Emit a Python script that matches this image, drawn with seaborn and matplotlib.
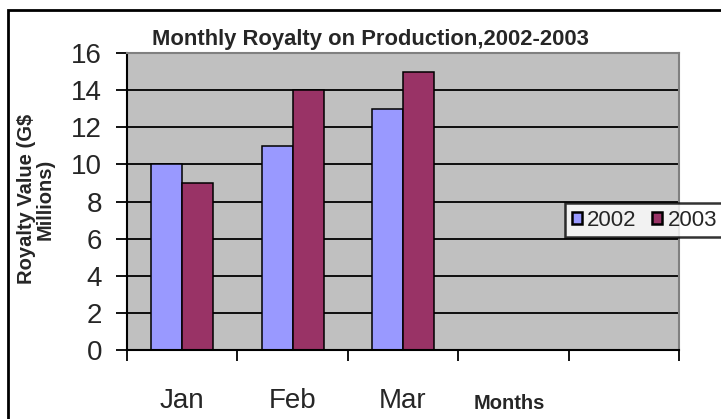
import numpy as np
import pandas as pd
import matplotlib
matplotlib.use('Agg')
import matplotlib.pyplot as plt
import seaborn as sns
from matplotlib.patches import Rectangle

# data
months = ['Jan', 'Feb', 'Mar']
slots = ['Jan', 'Feb', 'Mar', ' ', '  ']   # 2 empty category slots like the original
royalty_2002 = [10, 11, 13]
royalty_2003 = [9, 14, 15]
years = ['2002', '2003']
yticks = [0, 2, 4, 6, 8, 10, 12, 14, 16]

df = pd.DataFrame({
    'month': months * 2,
    'year': [years[0]] * 3 + [years[1]] * 3,
    'value': royalty_2002 + royalty_2003,
})

sns.set_style('white')
plt.rcParams['font.family'] = ['Liberation Sans', 'DejaVu Sans']

W, H = 721, 419
fig = plt.figure(figsize=(W / 100, H / 100), dpi=100)
ax = fig.add_axes([127 / W, 1 - 350 / H, (679 - 127) / W, (350 - 53) / H])
ax.set_facecolor('#C0C0C0')

sns.barplot(data=df, x='month', y='value', hue='year', order=slots,
            hue_order=years, palette=['#9999FF', '#993366'], width=0.56,
            edgecolor='black', linewidth=1.1, saturation=1, ax=ax, legend=True)

ax.set_xlim(-0.5, len(slots) - 0.5)
ax.set_ylim(0, 16)
ax.set_yticks(yticks)
ax.set_yticklabels([str(v) for v in yticks], fontsize=20)
for v in yticks[1:-1]:
    ax.axhline(v, color='black', lw=1.3, zorder=0.5)
ax.set_axisbelow(True)

# category boundaries as tick marks, labels at centres
ax.set_xticks(np.arange(-0.5, len(slots)), labels=[''] * (len(slots) + 1))
ax.set_xticks(range(len(slots)), labels=slots, minor=True, fontsize=20)
ax.tick_params(axis='x', which='minor', length=0, pad=27)
ax.tick_params(axis='both', which='major', length=8, width=1.3, color='black',
               direction='out', bottom=True, left=True)
ax.tick_params(axis='y', pad=10)
ax.set_xlabel('')
ax.set_ylabel('')

for s in ['left', 'bottom']:
    ax.spines[s].set_color('black')
    ax.spines[s].set_linewidth(1.5)
for s in ['top', 'right']:
    ax.spines[s].set_color('#808080')
    ax.spines[s].set_linewidth(1.5)

# legend
ax.get_legend().remove()
handles = [Rectangle((0, 0), 1, 1, facecolor=c, edgecolor='black', lw=1.8)
           for c in ['#9999FF', '#993366']]
leg = fig.legend(handles, years, loc='upper left',
                 bbox_to_anchor=(565 / W, 1 - 203 / H), ncol=2, fontsize=16,
                 frameon=True, fancybox=False, edgecolor='black',
                 handlelength=0.45, handleheight=0.45, handletextpad=0.25,
                 columnspacing=0.7, borderpad=0.3, borderaxespad=0)
leg.get_frame().set_linewidth(1.8)

# texts
fig.text(370 / W, 1 - 40 / H, 'Monthly Royalty on Production,2002-2003',
         ha='center', va='center', fontsize=15.8, fontweight='bold')
fig.text(36 / W, 1 - 199 / H, 'Royalty Value (G$\nMillions)', rotation=90,
         ha='center', va='center', fontsize=14.5, fontweight='bold',
         linespacing=0.95, multialignment='center')
fig.text(509 / W, 1 - 403 / H, 'Months', ha='center', va='center',
         fontsize=14.5, fontweight='bold')

# outer chart border (runs off the right/bottom edge in the original)
fig.add_artist(Rectangle((8 / W, -0.1), 1.2, 1.1 - 10 / H, fill=False,
                         edgecolor='black', lw=2, transform=fig.transFigure))

fig.savefig('out.png', dpi=100)
